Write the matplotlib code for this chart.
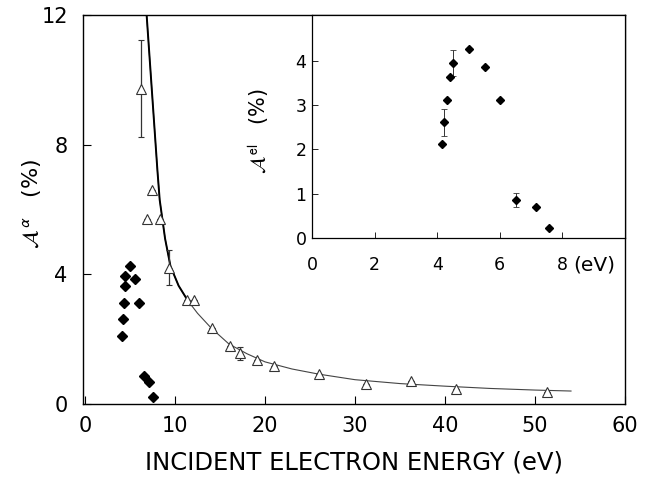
import matplotlib
matplotlib.use("Agg")
import matplotlib.pyplot as plt

plt.rcParams['font.family'] = ['DejaVu Sans']
plt.rcParams['mathtext.fontset'] = 'stixsans'

# Elastic (diamond) data: energy (eV), asymmetry (%)
el_energy = [4.14, 4.22, 4.32, 4.41, 4.50, 5.01, 5.52, 6.02, 6.51, 7.15, 7.57]
el_asym = [2.11, 2.61, 3.12, 3.63, 3.95, 4.26, 3.85, 3.12, 0.86, 0.69, 0.22]
el_err = [0, 0.31, 0, 0, 0.30, 0, 0, 0, 0.15, 0, 0]

# Total (triangle) data
tri_energy = [6.2, 6.9, 7.44, 8.37, 9.37, 11.37, 12.15, 14.07, 16.07, 17.2, 19.07, 21.0, 26.0, 31.2, 36.2, 41.2, 51.3]
tri_asym = [9.73, 5.7, 6.59, 5.7, 4.21, 3.2, 3.2, 2.35, 1.78, 1.57, 1.37, 1.18, 0.92, 0.61, 0.71, 0.47, 0.38]
tri_err = [1.5, 0, 0, 0, 0.55, 0, 0, 0, 0, 0.2, 0, 0, 0, 0, 0, 0, 0]

# Fitted curve
curve_x = [6.85, 7.25, 7.65, 8.05, 8.3, 8.6, 8.9, 9.5, 10.4, 11.4, 12.5, 14.0, 16.0, 18.0,
           20.0, 23.0, 26.0, 30.0, 35.0, 40.0, 45.0, 50.0, 54.0]
curve_y = [12.0, 10.4, 8.8, 7.2, 6.3, 5.7, 5.1, 4.25, 3.65, 3.2, 2.8, 2.35, 1.85, 1.55,
           1.3, 1.08, 0.92, 0.75, 0.63, 0.55, 0.48, 0.43, 0.40]
thick_n = 10  # number of curve points drawn thicker

main_xticks = [0, 10, 20, 30, 40, 50, 60]
main_yticks = [0, 4, 8, 12]
inset_xticks = [0, 2, 4, 6, 8]
inset_yticks = [0, 1, 2, 3, 4]

W, H = 653, 478
fig = plt.figure(figsize=(W / 100, H / 100), dpi=100)

ax = fig.add_axes([83 / W, 1 - 404 / H, (625 - 83) / W, (404 - 15) / H])
ax.set_xlim(-0.22, 60)
ax.set_ylim(0, 12)

ax.plot(curve_x, curve_y, color='#444444', lw=0.8, zorder=2)
ax.plot(curve_x[:thick_n], curve_y[:thick_n], color='black', lw=1.4, zorder=2)

ax.errorbar(tri_energy, tri_asym, yerr=tri_err, fmt='^', mfc='white', mec='#333333',
            mew=0.8, ms=6.5, ecolor='#333333', elinewidth=0.9, capsize=2.5, capthick=0.8, zorder=3)
ax.plot(el_energy, el_asym, 'D', color='black', ms=5.5, zorder=4)

ax.set_xticks(main_xticks)
ax.set_yticks(main_yticks)
ax.tick_params(direction='in', length=6, width=0.8, labelsize=15)
ax.tick_params(axis='x', pad=9)
ax.tick_params(axis='y', pad=11)
for s in ax.spines.values():
    s.set_linewidth(1.0)
ax.set_xlabel('INCIDENT ELECTRON ENERGY (eV)', fontsize=17.5, labelpad=10)
ax.set_ylabel(r'$\mathcal{A}^{\,\alpha}$   (%)', fontsize=16)
ax.yaxis.set_label_coords(-(83 - 43) / 542, 0.514)

# Inset
ins = fig.add_axes([312 / W, 1 - 238 / H, (625 - 312) / W, (238 - 15) / H])
ins.set_xlim(0, 10)
ins.set_ylim(0, 5.03)
ins.errorbar(el_energy, el_asym, yerr=el_err, fmt='D', color='black', ms=4,
             ecolor='#333333', elinewidth=0.7, capsize=2, capthick=0.6)
ins.set_xticks(inset_xticks)
ins.set_yticks(inset_yticks)
ins.tick_params(direction='in', length=4.5, width=0.6, labelsize=12.5)
ins.tick_params(axis='x', pad=13)
ins.tick_params(axis='y', pad=4)
for s in ins.spines.values():
    s.set_linewidth(0.9)
ins.text(8.35, -0.6, '(eV)', fontsize=14.5, ha='left', va='center',
         transform=ins.transData, clip_on=False)
ins.set_ylabel(r'$\mathcal{A}^{\,\mathrm{el}}$   (%)', fontsize=15)
ins.yaxis.set_label_coords(-(312 - 271) / 313, 0.48)

fig.savefig('out.png', dpi=100)
